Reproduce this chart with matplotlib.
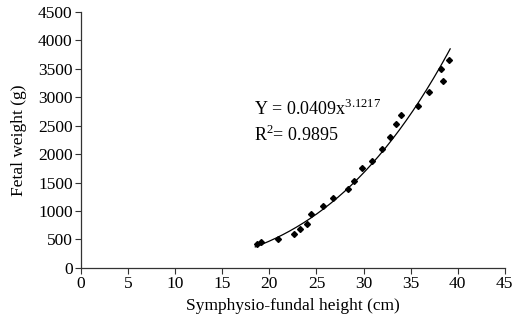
import numpy as np
import matplotlib
matplotlib.use("Agg")
import matplotlib.pyplot as plt

plt.rcParams['font.family'] = ['Liberation Serif', 'DejaVu Serif']
plt.rcParams['mathtext.fontset'] = 'custom'
plt.rcParams['mathtext.rm'] = 'Liberation Serif'

# measured points: symphysio-fundal height (cm) vs fetal weight (g)
height_cm = [18.65, 19.1, 20.95, 22.6, 23.25, 24.0, 24.4, 25.7, 26.8, 28.3, 29.0,
             29.8, 30.9, 32.0, 32.8, 33.4, 34.0, 35.8, 36.9, 38.2, 38.4, 39.1]
weight_g = [422, 452, 510, 592, 685, 773, 949, 1095, 1236, 1383, 1529,
            1752, 1886, 2097, 2297, 2536, 2684, 2847, 3088, 3497, 3292, 3656]

# power fit Y = a * x^b
fit_a = 0.0409
fit_b = 3.1217
fit_range = [18.5, 39.2]

x_ticks = [0, 5, 10, 15, 20, 25, 30, 35, 40, 45]
y_ticks = [0, 500, 1000, 1500, 2000, 2500, 3000, 3500, 4000, 4500]

fig = plt.figure(figsize=(5.13, 3.22), dpi=100)
ax = fig.add_axes([0.158, 0.168, 0.826, 0.795])

xs = np.linspace(fit_range[0], fit_range[1], 200)
ax.plot(xs, fit_a * xs ** fit_b, color='black', lw=0.9)
ax.plot(height_cm, weight_g, linestyle='none', marker='D', markersize=3,
        color='black')

ax.text(18.4, 2790, r'Y = 0.0409x$^{3.1217}$', fontsize=13, va='center')
ax.text(18.4, 2330, r'R$^{2}$= 0.9895', fontsize=13, va='center')

ax.set_xlim(0, 45)
ax.set_ylim(0, 4500)
ax.set_xticks(x_ticks)
ax.set_yticks(y_ticks)
ax.tick_params(labelsize=12.5, length=4, width=0.8, color='#333333', pad=2)
ax.spines['top'].set_visible(False)
ax.spines['right'].set_visible(False)
for s in ['left', 'bottom']:
    ax.spines[s].set_linewidth(0.9)
    ax.spines[s].set_color('#333333')

ax.set_xlabel('Symphysio-fundal height (cm)', fontsize=12.5, labelpad=4)
ax.set_ylabel('Fetal weight (g)', fontsize=12.5, labelpad=8)

fig.savefig('out.png', dpi=100)
